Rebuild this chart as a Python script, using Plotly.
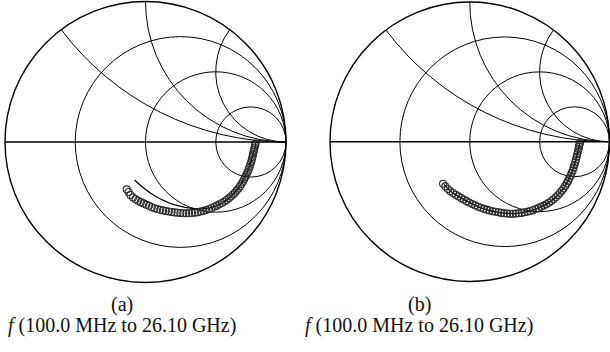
import plotly.graph_objects as go

# ---------------- data (reflection coefficient) ----------------
meas_a_re = [-0.134, -0.121, -0.107, -0.089, -0.071, -0.053, -0.033, -0.014, 0.005, 0.025,
             0.045, 0.064, 0.084, 0.105, 0.125, 0.145, 0.166, 0.186, 0.207, 0.228,
             0.248, 0.269, 0.290, 0.310, 0.331, 0.352, 0.372, 0.392, 0.412, 0.432,
             0.452, 0.471, 0.490, 0.508, 0.526, 0.544, 0.561, 0.577, 0.593, 0.608,
             0.623, 0.636, 0.649, 0.661, 0.673, 0.683, 0.693, 0.702, 0.711, 0.719,
             0.727, 0.734, 0.740, 0.746, 0.752, 0.757, 0.761, 0.765, 0.769, 0.773,
             0.776, 0.780, 0.783]
meas_a_im = [-0.337, -0.356, -0.377, -0.395, -0.408, -0.418, -0.428, -0.437, -0.446, -0.454,
             -0.464, -0.471, -0.477, -0.483, -0.487, -0.491, -0.495, -0.498, -0.501, -0.504,
             -0.505, -0.507, -0.507, -0.507, -0.505, -0.503, -0.500, -0.495, -0.490, -0.484,
             -0.477, -0.470, -0.461, -0.453, -0.443, -0.434, -0.423, -0.413, -0.401, -0.388,
             -0.374, -0.361, -0.346, -0.331, -0.315, -0.299, -0.283, -0.265, -0.248, -0.231,
             -0.214, -0.196, -0.178, -0.160, -0.142, -0.125, -0.107, -0.089, -0.071, -0.056,
             -0.040, -0.025, -0.011]

model_a_re = [-0.078, -0.039, -0.004, 0.032, 0.068, 0.103, 0.139, 0.174, 0.210, 0.246,
              0.281, 0.317, 0.352, 0.388, 0.423, 0.459, 0.495, 0.530, 0.566, 0.601,
              0.637, 0.673, 0.701, 0.726, 0.746, 0.762, 0.776, 0.786]
model_a_im = [-0.270, -0.306, -0.334, -0.361, -0.384, -0.404, -0.421, -0.436, -0.448, -0.457,
              -0.465, -0.470, -0.474, -0.475, -0.474, -0.469, -0.458, -0.443, -0.423, -0.395,
              -0.357, -0.310, -0.260, -0.206, -0.153, -0.100, -0.050, -0.007]

meas_b_re = [-0.191, -0.175, -0.157, -0.139, -0.120, -0.100, -0.081, -0.062, -0.043, -0.023,
             -0.003, 0.018, 0.039, 0.059, 0.080, 0.101, 0.122, 0.142, 0.163, 0.184,
             0.205, 0.225, 0.246, 0.267, 0.288, 0.309, 0.329, 0.350, 0.371, 0.392,
             0.412, 0.432, 0.452, 0.472, 0.492, 0.511, 0.530, 0.548, 0.566, 0.583,
             0.600, 0.616, 0.631, 0.645, 0.659, 0.671, 0.683, 0.694, 0.704, 0.713,
             0.722, 0.729, 0.737, 0.743, 0.749, 0.755, 0.760, 0.765, 0.769, 0.774,
             0.778, 0.782, 0.785, 0.789]
meas_b_im = [-0.301, -0.319, -0.338, -0.354, -0.367, -0.379, -0.391, -0.402, -0.414, -0.425,
             -0.436, -0.446, -0.455, -0.465, -0.472, -0.480, -0.486, -0.492, -0.497, -0.501,
             -0.505, -0.509, -0.512, -0.514, -0.515, -0.515, -0.514, -0.512, -0.509, -0.505,
             -0.501, -0.496, -0.490, -0.482, -0.475, -0.466, -0.457, -0.447, -0.436, -0.424,
             -0.411, -0.397, -0.383, -0.367, -0.351, -0.334, -0.316, -0.298, -0.280, -0.261,
             -0.243, -0.224, -0.205, -0.185, -0.166, -0.147, -0.127, -0.108, -0.089, -0.070,
             -0.052, -0.035, -0.019, -0.007]

model_b_re = [-0.185, -0.140, -0.090, -0.040, 0.020, 0.080, 0.140, 0.200, 0.260, 0.320,
              0.380, 0.440, 0.500, 0.560, 0.615, 0.660, 0.700, 0.730, 0.752, 0.768,
              0.780, 0.788]
model_b_im = [-0.305, -0.352, -0.386, -0.414, -0.446, -0.473, -0.492, -0.505, -0.513, -0.514,
              -0.507, -0.493, -0.471, -0.440, -0.398, -0.350, -0.288, -0.222, -0.156, -0.092,
              -0.040, -0.008]

resistance_ticks = [1 / 3, 1, 3]
reactance_ticks = [0.5, 1, 2]
panel_labels = ["(a)", "(b)"]
freq_label = "<i>f</i> (100.0 MHz to 26.10 GHz)"


def to_z(g_re, g_im):
    zr, zi = [], []
    for a, b in zip(g_re, g_im):
        g = complex(a, b)
        z = (1 + g) / (1 - g)
        zr.append(z.real)
        zi.append(z.imag)
    return zr, zi


fig = go.Figure()

for idx, (mr, mi, lr, li) in enumerate([
        (meas_a_re, meas_a_im, model_a_re, model_a_im),
        (meas_b_re, meas_b_im, model_b_re, model_b_im)]):
    sub = "smith" if idx == 0 else "smith2"
    lzr, lzi = to_z(lr, li)
    mzr, mzi = to_z(mr, mi)
    fig.add_trace(go.Scattersmith(real=lzr, imag=lzi, mode="lines",
                                  line=dict(color="#000000", width=1.3),
                                  subplot=sub, showlegend=False, hoverinfo="skip"))
    fig.add_trace(go.Scattersmith(real=mzr, imag=mzi, mode="markers",
                                  marker=dict(symbol="circle-open", size=7,
                                              color="#2a2a2a", line=dict(width=1.1)),
                                  subplot=sub, showlegend=False, hoverinfo="skip"))

axis_common = dict(showticklabels=False, ticks="", gridcolor="#000000", gridwidth=1.3,
                   linecolor="#000000", linewidth=1.4, showline=True, showgrid=True)

H = 352.0
W = 610.0


def smith_layout(x0, x1, y_top, y_bot):
    return dict(
        domain=dict(x=[x0 / W, x1 / W], y=[(H - y_bot) / H, (H - y_top) / H]),
        bgcolor="white",
        realaxis=dict(tickvals=resistance_ticks, **axis_common),
        imaginaryaxis=dict(tickvals=reactance_ticks, **axis_common),
    )


fig.update_layout(
    width=610, height=352,
    margin=dict(l=0, r=0, t=0, b=0),
    paper_bgcolor="white",
    smith=smith_layout(5, 286, 1.5, 282.5),
    smith2=smith_layout(330, 609.5, 2, 281.5),
    font=dict(family="Liberation Serif, Times New Roman, serif", color="#111111"),
)

label_x = [122, 419]
for i in range(2):
    fig.add_annotation(x=label_x[i] / W, y=(H - 304) / H, xref="paper", yref="paper",
                       xanchor="center", yanchor="middle",
                       text=panel_labels[i], showarrow=False,
                       font=dict(size=20, family="Liberation Serif, Times New Roman, serif",
                                 color="#111111"))
    fig.add_annotation(x=label_x[i] / W, y=(H - 325) / H, xref="paper", yref="paper",
                       xanchor="center", yanchor="middle",
                       text=freq_label, showarrow=False,
                       font=dict(size=20, family="Liberation Serif, Times New Roman, serif",
                                 color="#111111"))

fig.write_html("out.html")
